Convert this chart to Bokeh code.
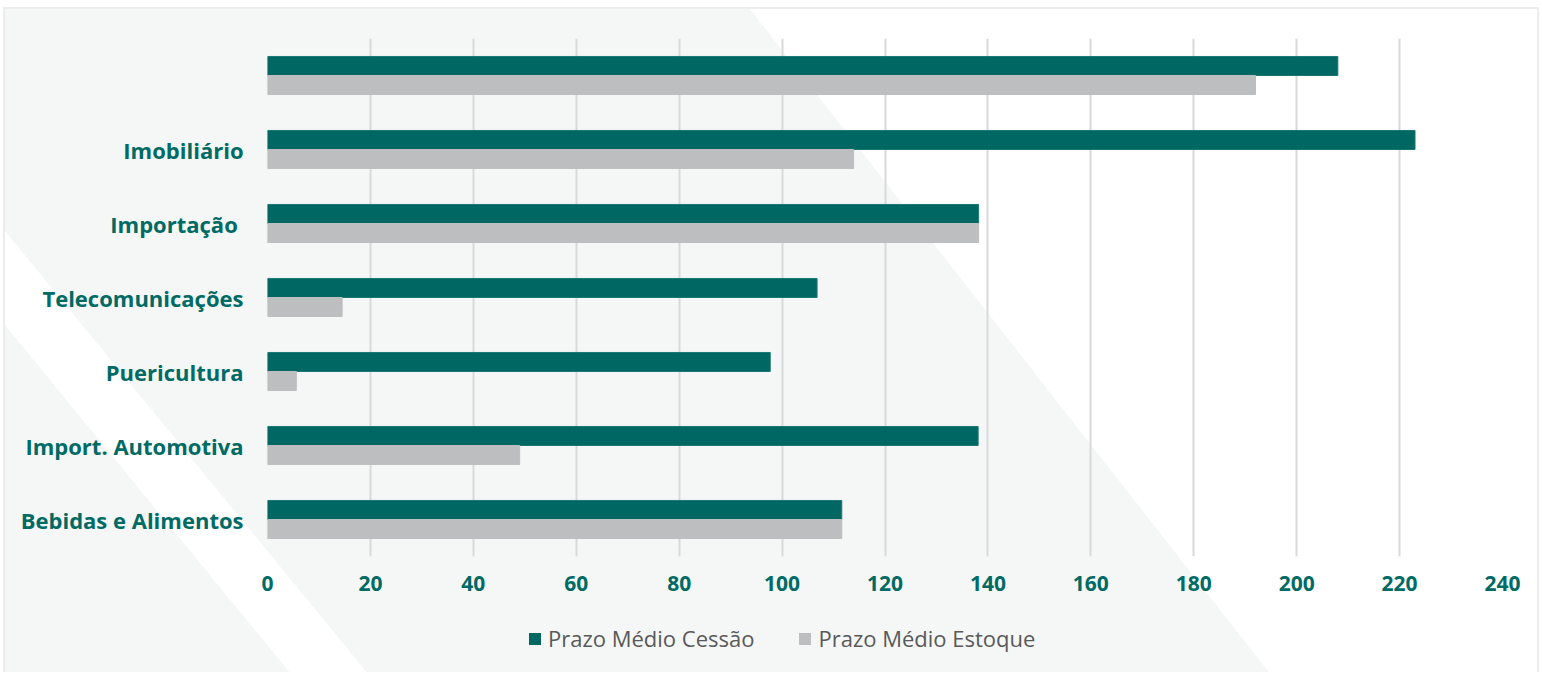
from bokeh.plotting import figure
from bokeh.layouts import column
from bokeh.models import ColumnDataSource, Legend, LegendItem, FactorRange, Range1d, FixedTicker
from bokeh.transform import dodge
from bokeh.embed import file_html
from bokeh.resources import INLINE

# ---- data (top to bottom as shown) ----
categories = [" ", "Imobiliário", "Importação ", "Telecomunicações", "Puericultura",
              "Import. Automotiva", "Bebidas e Alimentos"]
prazo_cessao = [208, 223, 138.2, 106.8, 97.7, 138.1, 111.6]
prazo_estoque = [192, 113.9, 138.2, 14.5, 5.6, 49, 111.6]
x_ticks = [0, 20, 40, 60, 80, 100, 120, 140, 160, 180, 200, 220, 240]
series_names = ["Prazo Médio Cessão", "Prazo Médio Estoque"]

TEAL = "#006762"
GREY = "#bdbec0"
LABEL = "#006a64"

src = ColumnDataSource(dict(cat=categories, cessao=prazo_cessao, estoque=prazo_estoque))

W, H1, H2 = 1540, 610, 62
p = figure(width=W, height=H1, output_backend="svg", toolbar_location=None,
           y_range=FactorRange(factors=list(reversed(categories))),
           x_range=Range1d(0, 240),
           min_border_left=267, min_border_right=38, min_border_top=38, min_border_bottom=54)
p.background_fill_color = None
p.border_fill_color = None
p.outline_line_color = None

p.hbar(y=dodge("cat", 0.1285, range=p.y_range), right="cessao", left=0, height=0.257,
       source=src, fill_color=TEAL, line_color="#1a7873", line_width=1)
p.hbar(y=dodge("cat", -0.1285, range=p.y_range), right="estoque", left=0, height=0.257,
       source=src, fill_color=GREY, line_color=GREY, line_width=1)

p.xaxis.ticker = FixedTicker(ticks=x_ticks)
p.xgrid.ticker = FixedTicker(ticks=x_ticks)
p.xgrid.grid_line_color = "#d9d9d9"
p.xgrid.grid_line_width = 2
p.ygrid.grid_line_color = None

for ax in (p.xaxis[0], p.yaxis[0]):
    ax.axis_line_color = None
    ax.major_tick_line_color = None
    ax.minor_tick_line_color = None
    ax.major_tick_out = 0
    ax.major_tick_in = 0
    ax.major_label_text_color = LABEL
    ax.major_label_text_font = "Open Sans"
    ax.major_label_text_font_style = "bold"

p.xaxis.major_label_text_font_size = "21px"
p.yaxis.major_label_text_font_size = "22px"
p.xaxis.major_label_standoff = 19
p.yaxis.major_label_standoff = 24

# legend strip below the chart (zero-height, fill-only renderers: they only feed the legend)
p2 = figure(width=W, height=H2, output_backend="svg", toolbar_location=None,
            x_range=Range1d(0, 240), y_range=FactorRange(factors=list(reversed(categories))),
            min_border_left=0, min_border_right=0, min_border_top=0, min_border_bottom=0)
p2.axis.visible = False
p2.grid.grid_line_color = None
p2.background_fill_color = None
p2.border_fill_color = None
p2.outline_line_color = None
l1 = p2.hbar(y="cat", right="cessao", left=0, height=0, source=src,
             fill_color=TEAL, line_color=None)
l2 = p2.hbar(y="cat", right="estoque", left=0, height=0, source=src,
             fill_color=GREY, line_color=None)
legend = Legend(items=[LegendItem(label=series_names[0], renderers=[l1]),
                       LegendItem(label=series_names[1], renderers=[l2])],
                orientation="horizontal", location=(260, 19),
                glyph_width=15, glyph_height=15, label_standoff=6, spacing=43,
                padding=0, margin=0, border_line_color=None, background_fill_alpha=0,
                label_text_font="Open Sans", label_text_font_size="22px",
                label_height=22, label_text_color="#595959")
p2.add_layout(legend, "center")

H = H1 + H2
bg_svg = ("data:image/svg+xml;utf8,<svg xmlns='http://www.w3.org/2000/svg' width='%d' height='%d'>"
          "<rect x='4' y='8' width='1534' height='680' fill='%%23f5f7f6'/>"
          "<polygon points='750,9 1537,9 1537,680 1275,680' fill='white'/>"
          "<polygon points='5,231 373,680 296,680 5,325' fill='white'/>"
          "<rect x='4' y='8' width='1534' height='680' fill='none' stroke='%%23ececec' stroke-width='2'/>"
          "</svg>") % (W, H)
layout = column(p, p2, spacing=0)
layout.styles = {"background-image": 'url("%s")' % bg_svg, "background-repeat": "no-repeat"}

open("out.html", "w").write(file_html(layout, INLINE))
